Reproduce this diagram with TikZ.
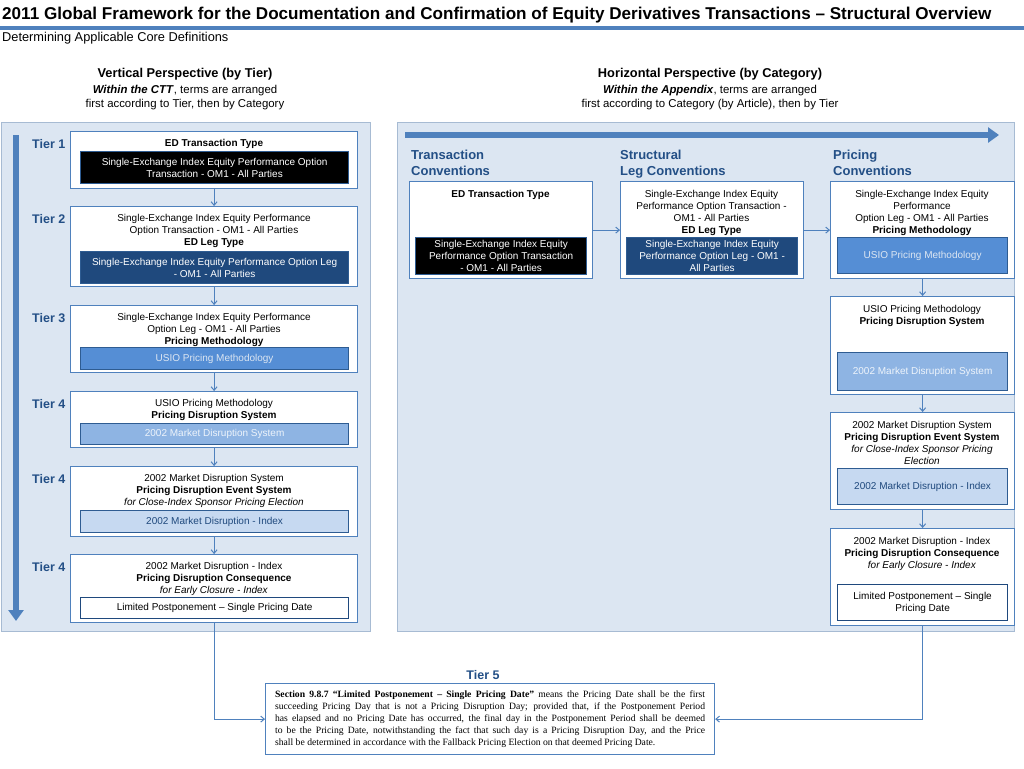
\documentclass[tikz,border=0pt]{standalone}
\usepackage{fontspec}
\setmainfont{Liberation Sans}
\newfontfamily\serifbody{Liberation Serif}
\usetikzlibrary{arrows.meta}
\definecolor{panelfill}{HTML}{DCE6F2}
\definecolor{panelline}{HTML}{A7BBD3}
\definecolor{boxline}{HTML}{4F81BD}
\definecolor{tiertext}{HTML}{234F86}
\definecolor{darkleg}{HTML}{1F497D}
\definecolor{midblue}{HTML}{558ED5}
\definecolor{lightblue}{HTML}{8EB4E3}
\definecolor{paleblue}{HTML}{C6D9F1}
\definecolor{innerline}{HTML}{2E5C92}
\newcommand{\boxfont}{\fontsize{10}{12}\selectfont}

\begin{document}
\begin{tikzpicture}[x=1pt,y=-1pt,
    outer/.style={draw=boxline,fill=white,line width=1.2pt,anchor=north west,inner sep=0pt},
    inner/.style={draw=innerline,line width=1.2pt,anchor=north west,inner sep=0pt,align=center,font=\boxfont},
    txt/.style={anchor=north,inner sep=0pt,align=center,font=\boxfont},
    tier/.style={anchor=west,inner sep=0pt,text=tiertext,font=\fontsize{12.5}{15}\selectfont\bfseries},
    category/.style={anchor=north west,inner sep=0pt,align=left,text=tiertext,font=\fontsize{13}{16}\selectfont\bfseries},
    link/.style={draw=boxline,line width=1pt,-{Straight Barb[length=3.5pt,width=6pt]}},
    bigarrow/.style={draw=boxline,line width=6pt,-{Triangle[width=15pt,length=11pt]}}]
    \useasboundingbox (0,0) rectangle (1024,768);
    \fill[white] (0,0) rectangle (1024,768);
    % title
    \draw (2,15) node[anchor=west,inner sep=0pt,font=\fontsize{17.1}{20}\selectfont\bfseries](title)
        {2011 Global Framework for the Documentation and Confirmation of Equity Derivatives Transactions -- Structural Overview}
        (2,38) node[anchor=west,inner sep=0pt,font=\fontsize{12.8}{15}\selectfont](subtitle)
        {Determining Applicable Core Definitions};
    \draw[boxline,line width=3.5pt] (0,28) -- (1024,28);
    % perspectives
    \draw (185,74.5) node[inner sep=0pt,font=\fontsize{12.8}{15}\selectfont\bfseries](vhead)
        {Vertical Perspective (by Tier)}
        (185,85.5) node[txt,font=\fontsize{11.4}{14}\selectfont](vsub)
        {\textbf{\textit{Within the CTT}}, terms are arranged\\first according to Tier, then by Category}
        (710,74.5) node[inner sep=0pt,font=\fontsize{12.8}{15}\selectfont\bfseries](hhead)
        {Horizontal Perspective (by Category)}
        (710,85.5) node[txt,font=\fontsize{11.4}{14}\selectfont](hsub)
        {\textbf{\textit{Within the Appendix}}, terms are arranged\\first according to Category (by Article), then by Tier};
    % panels
    \filldraw[fill=panelfill,draw=panelline] (1,122) rectangle (370,631);
    \filldraw[fill=panelfill,draw=panelline] (397,122) rectangle (1014,631);
    \coordinate (vstart) at (16,135);
    \coordinate (vend) at (16,621);
    \coordinate (hstart) at (405,135);
    \coordinate (hend) at (999,135);
    \draw[bigarrow] (vstart) -- (vend);
    \draw[bigarrow] (hstart) -- (hend);
    % vertical perspective
    \draw (32,144) node[tier] {Tier 1}
        (32,219) node[tier] {Tier 2}
        (32,318) node[tier] {Tier 3}
        (32,404) node[tier] {Tier 4}
        (32,479) node[tier] {Tier 4}
        (32,567) node[tier] {Tier 4};
    \node[outer,minimum width=287pt,minimum height=57pt] (b1) at (70,131) {};
    \node[outer,minimum width=287pt,minimum height=80pt] (b2) at (70,206) {};
    \node[outer,minimum width=287pt,minimum height=67pt] (b3) at (70,305) {};
    \node[outer,minimum width=287pt,minimum height=56pt] (b4) at (70,391) {};
    \node[outer,minimum width=287pt,minimum height=70pt] (b5) at (70,466) {};
    \node[outer,minimum width=287pt,minimum height=68pt] (b6) at (70,554) {};
    \draw (214,139.5) node[txt] {\textbf{ED Transaction Type}}
        (214,214.5) node[txt] {Single-Exchange Index Equity Performance\\Option Transaction - OM1 - All Parties\\\textbf{ED Leg Type}}
        (214,313.5) node[txt] {Single-Exchange Index Equity Performance\\Option Leg - OM1 - All Parties\\\textbf{Pricing Methodology}}
        (214,399.5) node[txt] {USIO Pricing Methodology\\\textbf{Pricing Disruption System}}
        (214,474.5) node[txt] {2002 Market Disruption System\\\textbf{Pricing Disruption Event System}\\\textit{for Close-Index Sponsor Pricing Election}}
        (214,562.5) node[txt] {2002 Market Disruption - Index\\\textbf{Pricing Disruption Consequence}\\\textit{for Early Closure - Index}};
    \draw (80,151) node[inner,fill=black,text=white,minimum width=268pt,minimum height=32pt] (i1)
        {Single-Exchange Index Equity Performance Option\\Transaction - OM1 - All Parties}
        (80,251) node[inner,fill=darkleg,text=white,minimum width=268pt,minimum height=32pt] (i2)
        {Single-Exchange Index Equity Performance Option Leg\\- OM1 - All Parties}
        (80,347) node[inner,fill=midblue,text=panelfill,minimum width=268pt,minimum height=22pt] (i3)
        {USIO Pricing Methodology}
        (80,423) node[inner,fill=lightblue,text=white!85!lightblue,minimum width=268pt,minimum height=21pt] (i4)
        {2002 Market Disruption System}
        (80,510) node[inner,fill=paleblue,text=darkleg,minimum width=268pt,minimum height=22pt] (i5)
        {2002 Market Disruption - Index}
        (80,597) node[inner,fill=white,draw=darkleg,minimum width=268pt,minimum height=21pt] (i6)
        {Limited Postponement -- Single Pricing Date};
    \draw[link] (b1.south) -- (b2.north);
    \draw[link] (b2.south) -- (b3.north);
    \draw[link] (b3.south) -- (b4.north);
    \draw[link] (b4.south) -- (b5.north);
    \draw[link] (b5.south) -- (b6.north);
    % horizontal perspective
    \draw (411,150) node[category] {Transaction\\Conventions}
        (620,150) node[category] {Structural\\Leg Conventions}
        (833,150) node[category] {Pricing\\Conventions};
    \node[outer,minimum width=183pt,minimum height=97pt] (ra) at (409,181) {};
    \node[outer,minimum width=183pt,minimum height=97pt] (rb) at (620,181) {};
    \node[outer,minimum width=184pt,minimum height=97pt] (rc) at (830,181) {};
    \node[outer,minimum width=184pt,minimum height=98pt] (rd) at (830,296) {};
    \node[outer,minimum width=184pt,minimum height=97pt] (re) at (830,412) {};
    \node[outer,minimum width=184pt,minimum height=97pt] (rf) at (830,528) {};
    \draw (500.5,190) node[txt] {\textbf{ED Transaction Type}}
        (711.5,190) node[txt] {Single-Exchange Index Equity\\Performance Option Transaction -\\OM1 - All Parties\\\textbf{ED Leg Type}}
        (922,190) node[txt] {Single-Exchange Index Equity\\Performance\\Option Leg - OM1 - All Parties\\\textbf{Pricing Methodology}}
        (922,305) node[txt] {USIO Pricing Methodology\\\textbf{Pricing Disruption System}}
        (922,421) node[txt] {2002 Market Disruption System\\\textbf{Pricing Disruption Event System}\\\textit{for Close-Index Sponsor Pricing}\\\textit{Election}}
        (922,537) node[txt] {2002 Market Disruption - Index\\\textbf{Pricing Disruption Consequence}\\\textit{for Early Closure - Index}};
    \draw (415,237) node[inner,fill=black,text=white,minimum width=171pt,minimum height=37pt] (ia)
        {Single-Exchange Index Equity\\Performance Option Transaction\\- OM1 - All Parties}
        (626,237) node[inner,fill=darkleg,text=white,minimum width=171pt,minimum height=37pt] (ib)
        {Single-Exchange Index Equity\\Performance Option Leg - OM1 -\\All Parties}
        (837,237) node[inner,fill=midblue,text=panelfill,minimum width=170pt,minimum height=36pt] (ic)
        {USIO Pricing Methodology}
        (837,352) node[inner,fill=lightblue,text=white!85!lightblue,minimum width=170pt,minimum height=38pt] (id)
        {2002 Market Disruption System}
        (837,468) node[inner,fill=paleblue,text=darkleg,minimum width=170pt,minimum height=36pt] (ie)
        {2002 Market Disruption - Index}
        (837,584) node[inner,fill=white,draw=darkleg,minimum width=170pt,minimum height=36pt] (if)
        {Limited Postponement -- Single\\Pricing Date};
    \draw[link] (ra.east) -- (rb.west);
    \draw[link] (rb.east) -- (rc.west);
    \draw[link] (rc.south) -- (rd.north);
    \draw[link] (rd.south) -- (re.north);
    \draw[link] (re.south) -- (rf.north);
    % tier 5
    \draw (483,675) node[inner sep=0pt,text=tiertext,font=\fontsize{12.5}{15}\selectfont\bfseries] (tier5) {Tier 5};
    \node[draw=boxline,line width=1.2pt,fill=white,anchor=north west,inner sep=0pt,
        minimum width=449pt,minimum height=71pt,align=left,
        font=\serifbody\fontsize{9.65}{12.2}\selectfont] (sec) at (265,683)
        {\makebox[430pt][s]{\textbf{Section 9.8.7 “Limited Postponement – Single Pricing Date”} means the Pricing Date shall be the first}\\
         \makebox[430pt][s]{succeeding Pricing Day that is not a Pricing Disruption Day; provided that, if the Postponement Period}\\
         \makebox[430pt][s]{has elapsed and no Pricing Date has occurred, the final day in the Postponement Period shall be deemed}\\
         \makebox[430pt][s]{to be the Pricing Date, notwithstanding the fact that such day is a Pricing Disruption Day, and the Price}\\
         \makebox[430pt][l]{shall be determined in accordance with the Fallback Pricing Election on that deemed Pricing Date.}};
    \draw[link] (b6.south) |- (sec.west);
    \draw[link] (rf.south) |- (sec.east);
\end{tikzpicture}
\end{document}
